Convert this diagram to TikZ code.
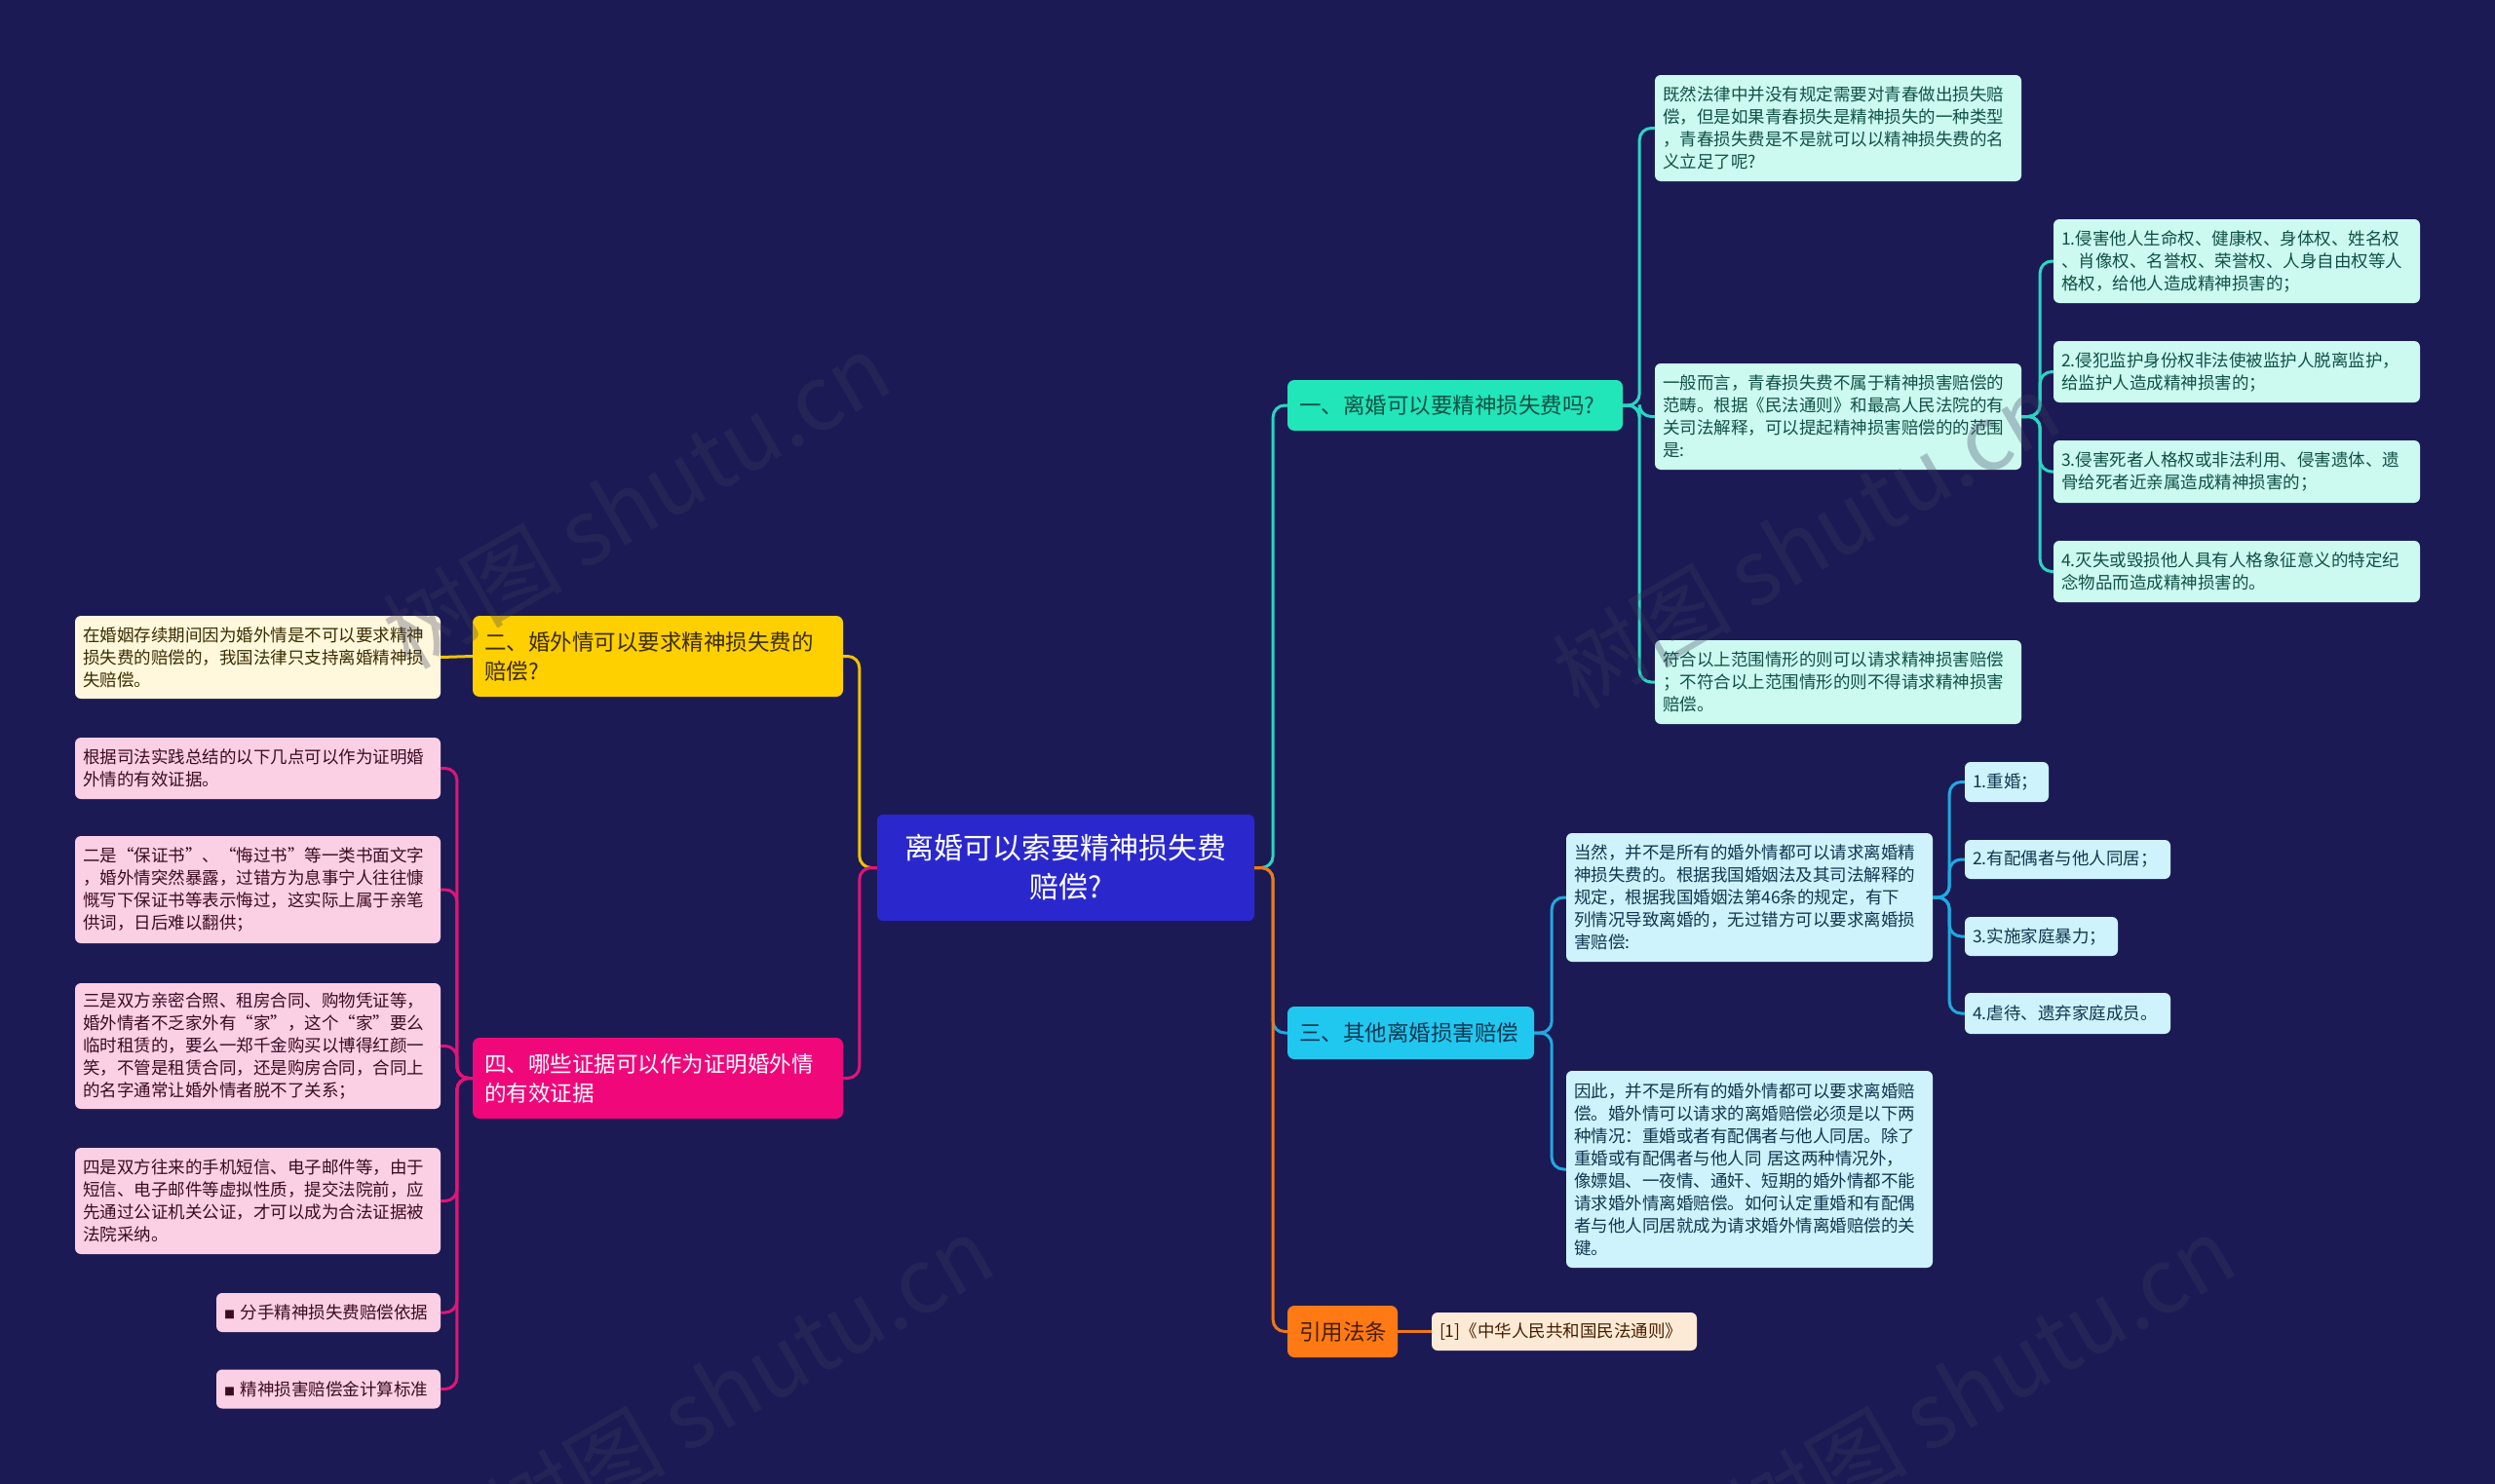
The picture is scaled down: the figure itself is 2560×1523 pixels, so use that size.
\documentclass[tikz,border=0pt]{standalone}
\usepackage{fontspec}
\setmainfont{Noto Sans CJK SC}
\newcommand\fsz[2]{\fontsize{#1}{#2}\selectfont}
\definecolor{bgc}{RGB}{28,26,84}
\definecolor{cfill}{RGB}{42,40,205}
\definecolor{tfill}{RGB}{32,230,185}
\definecolor{tleaf}{RGB}{204,250,240}
\definecolor{tline}{RGB}{40,215,195}
\definecolor{ttext}{RGB}{16,80,70}
\definecolor{bfill}{RGB}{32,200,240}
\definecolor{bleaf}{RGB}{206,243,252}
\definecolor{bline}{RGB}{30,170,225}
\definecolor{btext}{RGB}{15,55,80}
\definecolor{ofill}{RGB}{255,122,20}
\definecolor{oleaf}{RGB}{253,234,214}
\definecolor{oline}{RGB}{240,120,20}
\definecolor{otext}{RGB}{70,30,0}
\definecolor{yfill}{RGB}{255,208,0}
\definecolor{yleaf}{RGB}{255,248,220}
\definecolor{yline}{RGB}{240,195,0}
\definecolor{ytext}{RGB}{60,45,0}
\definecolor{pfill}{RGB}{240,8,122}
\definecolor{pleaf}{RGB}{252,208,228}
\definecolor{pline}{RGB}{225,20,120}
\definecolor{ptext}{RGB}{60,10,35}
\definecolor{wm}{RGB}{60,60,95}
\begin{document}
\begin{tikzpicture}[x=1pt,y=-1pt,
  box/.style={rounded corners=6pt, inner ysep=0pt, inner xsep=8pt, align=left, font=\fsz{17.5}{23}},
  br/.style={rounded corners=7pt, inner ysep=0pt, inner xsep=12pt, align=left, font=\fsz{22.5}{30}},
  tl/.style={box, fill=tleaf, text=ttext},
  bl/.style={box, fill=bleaf, text=btext},
  yl/.style={box, fill=yleaf, text=ytext},
  pl/.style={box, fill=pleaf, text=ptext},
  ol/.style={box, fill=oleaf, text=otext},
  conn/.style={line width=3pt, rounded corners=12pt},
  wmark/.style={text=wm, opacity=0.3, font=\fsz{92}{92}, rotate=30}
]
\useasboundingbox (0,0) rectangle (2560,1523);
\fill[bgc] (0,0) rectangle (2560,1523);

% central
\node[rounded corners=6pt, fill=cfill, text=white, align=center, font=\fsz{30}{40},
  minimum width=387pt, minimum height=109pt, inner sep=0pt] (c) at (1093.5,890.5)
  {离婚可以索要精神损失费\\赔偿?};

% branches
\node[br, fill=tfill, text=ttext, text width=320pt, minimum height=52pt] (b1) at (1493,416) {一、离婚可以要精神损失费吗?};
\node[br, fill=bfill, text=btext, text width=229pt, minimum height=54pt] (b3) at (1447.5,1060) {三、其他离婚损害赔偿};
\node[br, fill=ofill, text=otext, text width=89pt, minimum height=53pt] (bq) at (1377.5,1366.5) {引用法条};
\node[br, fill=yfill, text=ytext, text width=356pt, minimum height=83pt] (b2) at (675,673.5) {二、婚外情可以要求精神损失费的\\赔偿?};
\node[br, fill=pfill, text=white, text width=356pt, minimum height=83pt] (b4) at (675,1106.5) {四、哪些证据可以作为证明婚外情\\的有效证据};

% branch 1 leaves
\node[tl, text width=360pt, minimum height=109pt] (L1a) at (1886,131.5) {既然法律中并没有规定需要对青春做出损失赔\\偿，但是如果青春损失是精神损失的一种类型\\，青春损失费是不是就可以以精神损失费的名\\义立足了呢?};
\node[tl, text width=360pt, minimum height=109pt] (L1b) at (1886,427.5) {一般而言，青春损失费不属于精神损害赔偿的\\范畴。根据《民法通则》和最高人民法院的有\\关司法解释，可以提起精神损害赔偿的的范围\\是:};
\node[tl, text width=360pt, minimum height=86pt] (L1c) at (1886,700) {符合以上范围情形的则可以请求精神损害赔偿\\；不符合以上范围情形的则不得请求精神损害\\赔偿。};
\node[tl, text width=360pt, minimum height=86pt] (s1) at (2295,268) {1.侵害他人生命权、健康权、身体权、姓名权\\、肖像权、名誉权、荣誉权、人身自由权等人\\格权，给他人造成精神损害的；};
\node[tl, text width=360pt, minimum height=63pt] (s2) at (2295,381.5) {2.侵犯监护身份权非法使被监护人脱离监护，\\给监护人造成精神损害的；};
\node[tl, text width=360pt, minimum height=64pt] (s3) at (2295,484) {3.侵害死者人格权或非法利用、侵害遗体、遗\\骨给死者近亲属造成精神损害的；};
\node[tl, text width=360pt, minimum height=63pt] (s4) at (2295,586.5) {4.灭失或毁损他人具有人格象征意义的特定纪\\念物品而造成精神损害的。};

% branch 3 leaves
\node[bl, text width=360pt, minimum height=132pt] (L3a) at (1795,921) {当然，并不是所有的婚外情都可以请求离婚精\\神损失费的。根据我国婚姻法及其司法解释的\\规定，根据我国婚姻法第46条的规定，有下\\列情况导致离婚的，无过错方可以要求离婚损\\害赔偿:};
\node[bl, text width=360pt, minimum height=202pt] (L3b) at (1795,1200) {因此，并不是所有的婚外情都可以要求离婚赔\\偿。婚外情可以请求的离婚赔偿必须是以下两\\种情况：重婚或者有配偶者与他人同居。除了\\重婚或有配偶者与他人同 居这两种情况外，\\像嫖娼、一夜情、通奸、短期的婚外情都不能\\请求婚外情离婚赔偿。如何认定重婚和有配偶\\者与他人同居就成为请求婚外情离婚赔偿的关\\键。};
\node[bl, text width=70pt, minimum height=41pt] (t1) at (2059,802.5) {1.重婚；};
\node[bl, text width=195pt, minimum height=40pt] (t2) at (2121.5,882) {2.有配偶者与他人同居；};
\node[bl, text width=141pt, minimum height=40pt] (t3) at (2094.5,961) {3.实施家庭暴力；};
\node[bl, text width=195pt, minimum height=42pt] (t4) at (2121.5,1040) {4.虐待、遗弃家庭成员。};

% citation leaf
\node[ol, text width=256pt, minimum height=39pt] (q) at (1605,1366.5) {[1]《中华人民共和国民法通则》};

% branch 2 leaf
\node[yl, text width=359pt, minimum height=85pt] (y1) at (264.5,674.5) {在婚姻存续期间因为婚外情是不可以要求精神\\损失费的赔偿的，我国法律只支持离婚精神损\\失赔偿。};

% branch 4 leaves
\node[pl, text width=359pt, minimum height=63pt] (p1) at (264.5,788.5) {根据司法实践总结的以下几点可以作为证明婚\\外情的有效证据。};
\node[pl, text width=359pt, minimum height=110pt] (p2) at (264.5,913) {二是“保证书”、“悔过书”等一类书面文字\\，婚外情突然暴露，过错方为息事宁人往往慷\\慨写下保证书等表示悔过，这实际上属于亲笔\\供词，日后难以翻供；};
\node[pl, text width=359pt, minimum height=129pt] (p3) at (264.5,1073.5) {三是双方亲密合照、租房合同、购物凭证等，\\婚外情者不乏家外有“家”，这个“家”要么\\临时租赁的，要么一郑千金购买以博得红颜一\\笑，不管是租赁合同，还是购房合同，合同上\\的名字通常让婚外情者脱不了关系；};
\node[pl, text width=359pt, minimum height=109pt] (p4) at (264.5,1232.5) {四是双方往来的手机短信、电子邮件等，由于\\短信、电子邮件等虚拟性质，提交法院前，应\\先通过公证机关公证，才可以成为合法证据被\\法院采纳。};
\node[pl, text width=214pt, minimum height=40pt] (p5) at (337,1347) {{\fsz{11}{11}■} 分手精神损失费赔偿依据};
\node[pl, text width=214pt, minimum height=40pt] (p6) at (337,1425.5) {{\fsz{11}{11}■} 精神损害赔偿金计算标准};

% connectors right
\draw[conn, draw=tline] (c.east) -- ++(19,0) |- (b1.west);
\draw[conn, draw=bline] (c.east) -- ++(19,0) |- (b3.west);
\draw[conn, draw=oline] (c.east) -- ++(19,0) |- (bq.west);
\foreach \n in {L1a,L1b,L1c} \draw[conn, draw=tline] (b1.east) -- ++(17,0) |- (\n.west);
\foreach \n in {s1,s2,s3,s4} \draw[conn, draw=tline] (L1b.east) -- ++(19,0) |- (\n.west);
\foreach \n in {L3a,L3b} \draw[conn, draw=bline] (b3.east) -- ++(18,0) |- (\n.west);
\foreach \n in {t1,t2,t3,t4} \draw[conn, draw=bline] (L3a.east) -- ++(17,0) |- (\n.west);
\draw[conn, draw=oline] (bq.east) -- (q.west);
% connectors left
\draw[conn, draw=yline] (c.west) -- ++(-18,0) |- (b2.east);
\draw[conn, draw=pline] (c.west) -- ++(-18,0) |- (b4.east);
\draw[conn, draw=yline] (b2.west) -- (y1.east);
\foreach \n in {p1,p2,p3,p4,p5,p6} \draw[conn, draw=pline] (b4.west) -- ++(-16,0) |- (\n.east);

% watermarks (faint, over everything as in the reference)
\node[wmark] (w1) at (653,514) {树图 shutu.cn};
\node[wmark] (w2) at (1853,555) {树图 shutu.cn};
\node[wmark] (w3) at (759,1420) {树图 shutu.cn};
\node[wmark] (w4) at (2033,1420) {树图 shutu.cn};
\end{tikzpicture}
\end{document}
